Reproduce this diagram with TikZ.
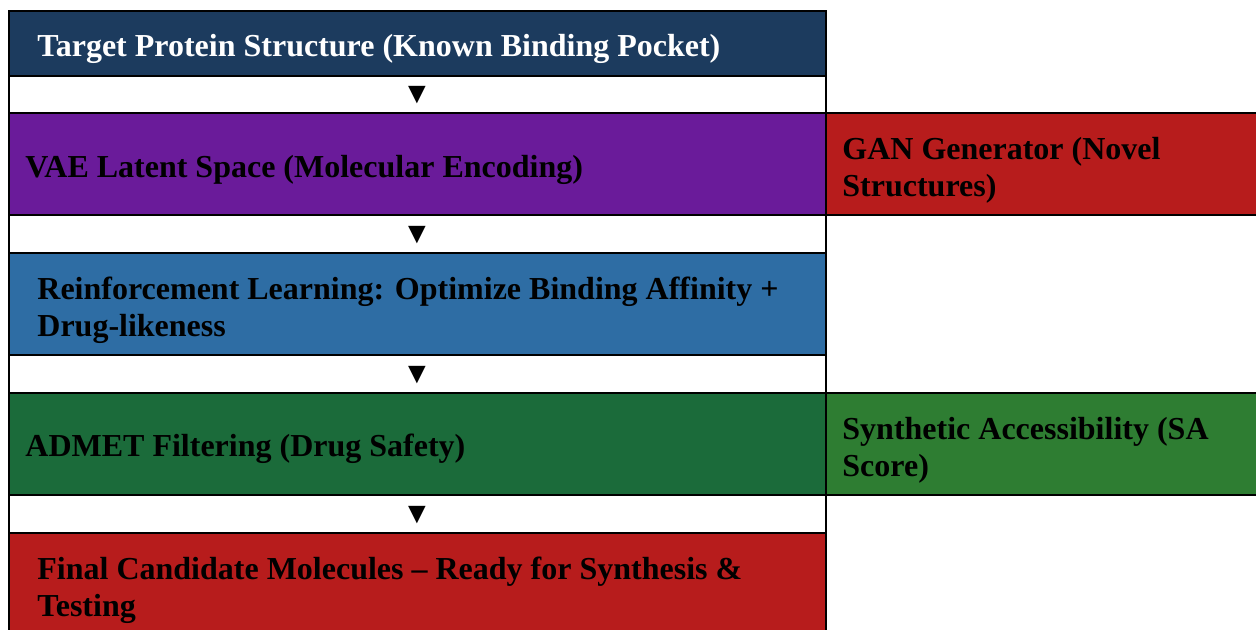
\documentclass[tikz,border=0pt]{standalone}
\usepackage{fontspec}
\setmainfont{Liberation Serif}
\begin{document}
\begin{tikzpicture}[x=0.5pt, y=-0.5pt,
    cellText/.style={anchor=west, align=left, inner sep=0pt, font=\fontsize{16}{18.4}\selectfont\bfseries},
    arrowGlyph/.style={inner sep=0pt, font=\fontsize{15}{15}\selectfont}]
    % Define column edges
    \def\colLeft{9}
    \def\colMid{826}
    \def\colRight{1270}

    \definecolor{borderColour}{HTML}{000000}
    \definecolor{fillTarget}{HTML}{1C3B5E}
    \definecolor{fillVae}{HTML}{6A1B9A}
    \definecolor{fillGan}{HTML}{B71C1C}
    \definecolor{fillRl}{HTML}{2E6DA4}
    \definecolor{fillAdmet}{HTML}{1B6B3A}
    \definecolor{fillSa}{HTML}{2E7D32}
    \definecolor{fillFinal}{HTML}{B71C1C}

    \useasboundingbox (0,0) rectangle (1256,630);
    \clip (0,0) rectangle (1256,630);

    % Draw left column cells
    \filldraw[fill=fillTarget, draw=borderColour, line width=0.9pt] (\colLeft,11) rectangle (\colMid,76);
    \draw[borderColour, line width=0.9pt] (\colLeft,76) rectangle (\colMid,113);
    \filldraw[fill=fillVae, draw=borderColour, line width=0.9pt] (\colLeft,113) rectangle (\colMid,215);
    \draw[borderColour, line width=0.9pt] (\colLeft,215) rectangle (\colMid,253);
    \filldraw[fill=fillRl, draw=borderColour, line width=0.9pt] (\colLeft,253) rectangle (\colMid,355);
    \draw[borderColour, line width=0.9pt] (\colLeft,355) rectangle (\colMid,393);
    \filldraw[fill=fillAdmet, draw=borderColour, line width=0.9pt] (\colLeft,393) rectangle (\colMid,495);
    \draw[borderColour, line width=0.9pt] (\colLeft,495) rectangle (\colMid,533);
    \filldraw[fill=fillFinal, draw=borderColour, line width=0.9pt] (\colLeft,533) rectangle (\colMid,645);

    % Draw right column cells
    \filldraw[fill=fillGan, draw=borderColour, line width=0.9pt] (\colMid,113) rectangle (\colRight,215);
    \filldraw[fill=fillSa, draw=borderColour, line width=0.9pt] (\colMid,393) rectangle (\colRight,495);

    % Label cells
    \node[cellText, text=white] (target) at (37,49) {Target Protein Structure (Known Binding Pocket)};
    \node[cellText] (vae) at (25,170) {VAE Latent Space (Molecular Encoding)};
    \node[cellText] (gan) at (842,170) {GAN Generator (Novel\\Structures)};
    \node[cellText] (rl) at (37,310) {Reinforcement Learning: Optimize Binding Affinity +\\Drug-likeness};
    \node[cellText] (admet) at (25,449) {ADMET Filtering (Drug Safety)};
    \node[cellText] (sa) at (842,450) {Synthetic Accessibility (SA\\Score)};
    \node[cellText] (final) at (37,590) {Final Candidate Molecules – Ready for Synthesis \&\\Testing};

    % Down arrows between rows
    \foreach \y/\n in {95/arrA, 235/arrB, 375/arrC, 515/arrD}
        \node[arrowGlyph] (\n) at (417,\y) {▼};
\end{tikzpicture}
\end{document}
